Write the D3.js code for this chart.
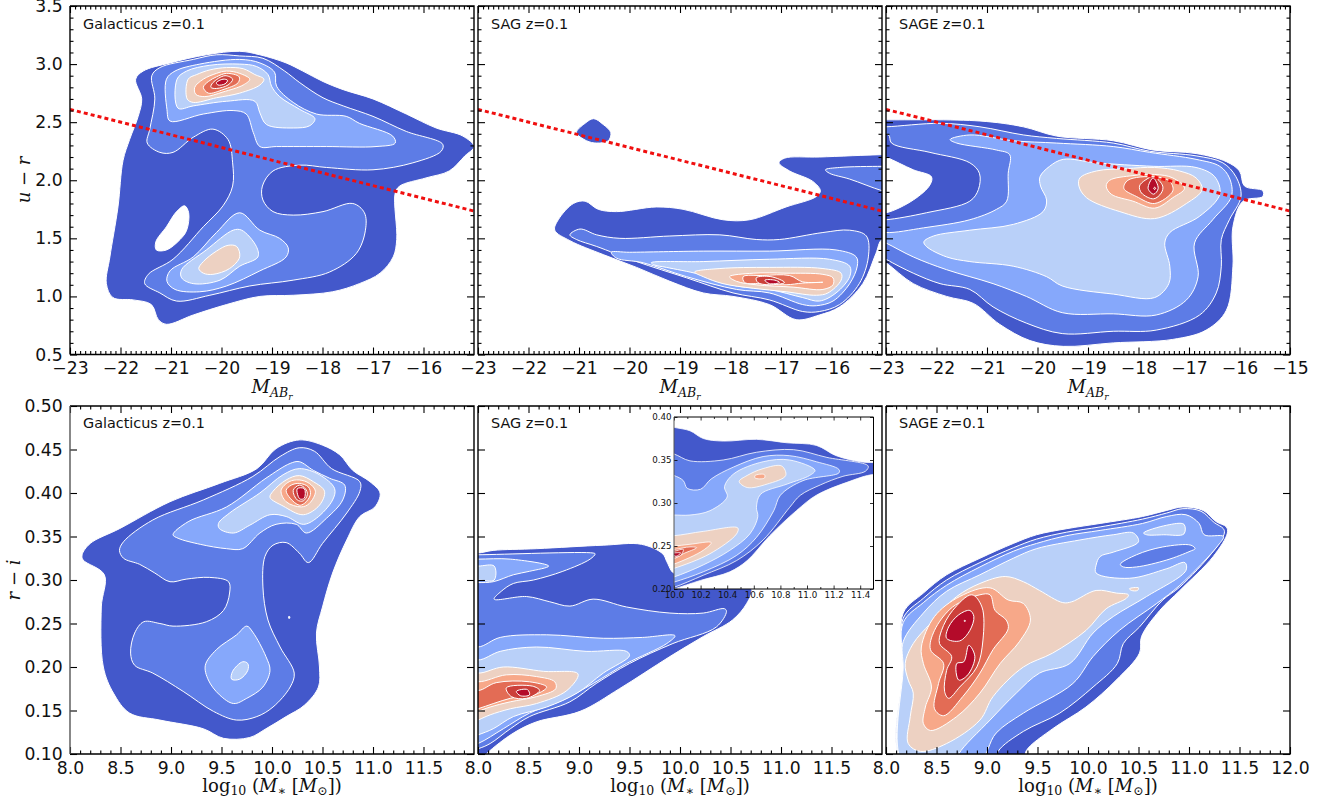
<!DOCTYPE html>
<html><head><meta charset="utf-8">
<script src="https://cdn.jsdelivr.net/npm/d3@7"></script>
<style>html,body{margin:0;padding:0;background:#fff}svg{display:block}text{font-family:"DejaVu Sans",sans-serif;fill:#111}.m{font-family:"DejaVu Serif",serif}</style>
</head><body><svg id="c" width="1322" height="805"></svg>
<script>
// Contour level colours (lowest to highest density)
const levelColors=["#4358cb","#5d7ce6","#86a8fb","#b9d0f9","#edd1c2","#f7a889","#e36c55","#cc403a","#b40b2a"];
// Red dividing line, [magnitude, colour]
const divider=[[-23,2.61],[-15,1.735]];

// Every panel: list of levels, every level: list of rings of [x, y] data values.
const galacticusUR=[
[[[-19.64,3.11],[-19.24,3.08],[-18.72,3.01],[-18.39,2.94],[-17.99,2.85],[-17.59,2.78],[-17,2.70],[-16.34,2.57],[-15.75,2.45],[-15.22,2.38],[-15,2.29],[-15.18,2.21],[-15.49,2.08],[-15.95,2.02],[-16.47,1.95],[-16.56,1.89],[-16.53,1.49],[-16.6,1.34],[-16.86,1.20],[-17.27,1.11],[-17.8,1.04],[-18.58,1.01],[-19.24,1.0],[-19.9,.93],[-20.56,.84],[-21.09,.76],[-21.25,.80],[-21.39,.93],[-21.75,.97],[-22.15,.99],[-22.28,1.11],[-22.21,1.34],[-22.05,1.77],[-21.95,2.17],[-21.82,2.35],[-21.65,2.55],[-21.58,2.70],[-21.7,2.87],[-21.55,2.94],[-21.02,3.01],[-20.3,3.08]],
 [[-20.73,1.78],[-20.65,1.72],[-20.69,1.57],[-20.82,1.49],[-21.09,1.40],[-21.29,1.40],[-21.3,1.47],[-21.09,1.60],[-20.89,1.73]]],
[[[-19.64,3.07],[-19.18,3.05],[-18.75,2.94],[-18.45,2.84],[-17.99,2.71],[-17.59,2.64],[-17,2.55],[-16.34,2.42],[-15.62,2.31],[-15.65,2.25],[-16.21,2.15],[-17,2.09],[-17.92,2.11],[-18.45,2.13],[-18.98,2.08],[-19.19,1.95],[-19.18,1.83],[-18.98,1.73],[-18.58,1.70],[-17.99,1.73],[-17.40,1.80],[-17.17,1.72],[-17.15,1.57],[-17.33,1.37],[-17.86,1.21],[-18.58,1.14],[-19.44,1.09],[-20.23,1.01],[-20.89,.96],[-21.22,1.03],[-21.52,1.11],[-21.45,1.19],[-20.96,1.32],[-20.36,1.60],[-19.97,1.78],[-19.78,1.95],[-19.78,2.15],[-19.87,2.35],[-20.17,2.44],[-20.56,2.37],[-20.96,2.24],[-21.22,2.24],[-21.47,2.32],[-21.42,2.44],[-21.32,2.70],[-21.38,2.90],[-21.22,2.97],[-20.56,3.04],[-20.10,3.08]]],
[[[-19.64,3.04],[-19.24,3.01],[-18.95,2.93],[-18.91,2.81],[-18.58,2.67],[-18.12,2.57],[-17.53,2.55],[-17.27,2.49],[-16.61,2.38],[-16.56,2.32],[-16.94,2.29],[-17.92,2.29],[-18.91,2.29],[-19.24,2.29],[-19.37,2.41],[-19.51,2.57],[-19.77,2.60],[-20.36,2.57],[-21.02,2.51],[-21.08,2.61],[-21.09,2.87],[-20.92,2.94],[-20.43,3.0]],
 [[-19.64,1.72],[-19.24,1.57],[-18.85,1.50],[-18.68,1.42],[-18.72,1.34],[-19.24,1.22],[-19.90,1.09],[-20.43,1.04],[-20.92,1.06],[-21.08,1.13],[-21.02,1.22],[-20.56,1.34],[-20.10,1.55]]],
[[[-19.64,3.0],[-19.31,2.98],[-19.08,2.91],[-19.01,2.81],[-18.85,2.72],[-18.45,2.61],[-18.15,2.53],[-18.25,2.47],[-18.58,2.45],[-19.11,2.48],[-19.24,2.58],[-19.34,2.68],[-19.90,2.68],[-20.56,2.64],[-20.86,2.62],[-20.88,2.87],[-20.69,2.94],[-20.23,2.99]],
 [[-19.77,1.57],[-19.6,1.57],[-19.31,1.43],[-19.28,1.34],[-19.64,1.26],[-20.03,1.14],[-20.56,1.11],[-20.79,1.16],[-20.79,1.23],[-20.30,1.40]]],
[[[-19.90,2.97],[-19.57,2.96],[-19.34,2.91],[-19.16,2.87],[-19.24,2.82],[-19.64,2.75],[-20.10,2.71],[-20.56,2.67],[-20.68,2.70],[-20.66,2.87],[-20.49,2.91],[-20.23,2.95]],
 [[-19.87,1.44],[-19.70,1.43],[-19.64,1.34],[-19.84,1.24],[-20.17,1.19],[-20.36,1.20],[-20.45,1.24],[-20.36,1.30],[-20.10,1.39]]],
[[[-19.90,2.94],[-19.64,2.92],[-19.44,2.87],[-19.57,2.82],[-19.97,2.76],[-20.33,2.72],[-20.51,2.74],[-20.53,2.80],[-20.36,2.87],[-20.10,2.92]]],
[[[-19.90,2.92],[-19.65,2.89],[-19.67,2.84],[-19.97,2.78],[-20.26,2.75],[-20.36,2.80],[-20.26,2.85],[-20.10,2.89]]],
[[[-19.93,2.90],[-19.78,2.87],[-19.87,2.82],[-20.10,2.79],[-20.21,2.80],[-20.17,2.84]]],
[[[-19.97,2.87],[-19.88,2.86],[-19.93,2.83],[-20.07,2.82],[-20.10,2.84]]]
];

const sagUR=[
[[[-20.71,2.53],[-20.52,2.48],[-20.37,2.41],[-20.42,2.34],[-20.65,2.32],[-20.85,2.34],[-21.05,2.41],[-20.88,2.49]],
 [[-20.88,1.82],[-20.62,1.75],[-20.26,1.73],[-19.47,1.77],[-18.94,1.75],[-18.15,1.66],[-17.62,1.66],[-16.90,1.77],[-16.30,1.86],[-16.22,1.91],[-16.37,1.99],[-16.83,2.08],[-17.04,2.15],[-16.93,2.19],[-16.24,2.20],[-15,2.22],[-14.7,2.22],[-14.7,1.49],[-15,1.49],[-15.12,1.37],[-15.38,1.11],[-15.84,.91],[-16.24,.84],[-16.70,.80],[-17.23,.93],[-17.95,1.0],[-18.54,1.03],[-19.20,1.13],[-19.86,1.25],[-20.52,1.36],[-21.18,1.48],[-21.48,1.57],[-21.41,1.66],[-21.11,1.80]]],
[[[-16.12,2.09],[-15.84,2.11],[-15,2.12],[-14.7,2.12],[-14.7,1.88],[-15,1.91],[-15.64,2.01],[-16.04,2.06]],
 [[-20.98,1.58],[-20.65,1.53],[-20.19,1.50],[-19.20,1.52],[-18.21,1.53],[-17.49,1.49],[-17.03,1.49],[-16.17,1.55],[-15.64,1.57],[-15.31,1.52],[-15.27,1.34],[-15.45,1.11],[-15.84,.93],[-16.24,.87],[-16.57,.87],[-17.23,.97],[-17.95,1.03],[-18.87,1.16],[-19.86,1.30],[-20.65,1.43],[-21.05,1.49],[-21.18,1.53]]],
[[[-20.36,1.38],[-20.0,1.38],[-18.54,1.39],[-17.23,1.39],[-15.91,1.40],[-15.51,1.34],[-15.49,1.26],[-15.64,1.11],[-15.97,.96],[-16.30,.92],[-16.57,.93],[-17.23,1.03],[-17.88,1.06],[-18.87,1.17],[-19.73,1.29],[-20.26,1.33]]],
[[[-19.57,1.29],[-18.54,1.30],[-17.23,1.32],[-16.04,1.32],[-15.64,1.26],[-15.64,1.17],[-15.91,1.03],[-16.24,.96],[-16.57,.99],[-17.23,1.06],[-17.88,1.09],[-18.61,1.19],[-19.27,1.25],[-19.50,1.27]]],
[[[-18.71,1.21],[-18.21,1.24],[-17.23,1.25],[-16.17,1.24],[-15.81,1.20],[-15.81,1.14],[-16.07,1.03],[-16.30,1.01],[-16.90,1.04],[-17.55,1.07],[-18.15,1.11],[-18.54,1.17]]],
[[[-18.02,1.17],[-17.55,1.20],[-16.90,1.20],[-16.17,1.19],[-15.97,1.16],[-15.97,1.10],[-16.17,1.06],[-16.76,1.08],[-17.49,1.10],[-17.88,1.13]]],
[[[-17.75,1.17],[-17.36,1.18],[-16.83,1.18],[-16.57,1.125],[-16.17,1.122],[-16.57,1.115],[-16.90,1.10],[-17.42,1.11],[-17.72,1.12]]],
[[[-17.49,1.16],[-17.2,1.17],[-16.93,1.12],[-17.23,1.10],[-17.46,1.12]]],
[[[-17.32,1.14],[-17.12,1.14],[-17.03,1.12],[-17.23,1.11]]]
];

const sageUR=[
[[[-23.3,2.52],[-23,2.52],[-21.14,2.51],[-20.28,2.46],[-19.62,2.38],[-18.50,2.34],[-17.71,2.26],[-16.86,2.23],[-16.26,2.16],[-16.0,2.08],[-15.90,1.95],[-15.54,1.91],[-15.54,1.86],[-15.93,1.82],[-16.13,1.60],[-16.13,1.26],[-16.26,.88],[-16.66,.71],[-17.32,.63],[-18.50,.60],[-19.49,.57],[-20.15,.62],[-20.75,.76],[-21.27,.94],[-21.80,1.0],[-22.46,1.11],[-23,1.29],[-23.3,1.37],[-23.3,1.72],[-23,1.72],[-22.46,1.83],[-22.13,1.96],[-22.10,2.03],[-22.46,2.09],[-23,2.20],[-23.3,2.25]]],
[[[-23.3,2.46],[-23,2.46],[-21.93,2.49],[-21.14,2.46],[-20.28,2.39],[-19.62,2.36],[-18.5,2.32],[-17.78,2.25],[-16.86,2.21],[-16.33,2.15],[-16.07,2.03],[-15.97,1.86],[-16.2,1.66],[-16.36,1.49],[-16.36,1.26],[-16.46,1.03],[-16.79,.84],[-17.65,.71],[-18.5,.70],[-19.51,.68],[-20.22,.77],[-20.88,.91],[-21.34,1.06],[-21.93,1.11],[-22.46,1.2],[-23,1.32],[-23.3,1.4],[-23.3,1.66],[-23,1.66],[-22.2,1.72],[-21.34,1.82],[-21.17,1.92],[-21.15,2.06],[-21.34,2.15],[-22.13,2.24],[-22.89,2.32],[-22.95,2.39],[-23.3,2.40]]],
[[[-21.73,2.35],[-21.34,2.39],[-20.48,2.34],[-19.62,2.32],[-18.5,2.29],[-17.78,2.24],[-16.86,2.18],[-16.39,2.12],[-16.2,2.02],[-16.16,1.86],[-16.53,1.66],[-16.89,1.46],[-16.82,1.17],[-17.05,.97],[-17.65,.84],[-18.5,.85],[-19.51,.86],[-20.22,1.0],[-20.88,1.11],[-21.8,1.23],[-22.46,1.34],[-23,1.46],[-23.3,1.52],[-23.3,1.58],[-23,1.55],[-22.26,1.59],[-21.34,1.66],[-20.81,1.75],[-20.61,1.82],[-20.58,2.06],[-20.55,2.22],[-20.81,2.26],[-21.60,2.32]]],
[[[-19.49,2.18],[-18.83,2.15],[-17.71,2.12],[-16.86,2.11],[-16.49,2.03],[-16.39,1.88],[-16.79,1.69],[-17.38,1.55],[-17.48,1.46],[-17.38,1.26],[-17.40,1.11],[-17.68,.99],[-18.5,1.02],[-19.51,1.09],[-19.82,1.17],[-20.48,1.26],[-21.34,1.30],[-21.8,1.34],[-22.2,1.43],[-22.25,1.47],[-22.06,1.52],[-21.34,1.57],[-20.48,1.62],[-19.89,1.73],[-19.82,1.83],[-19.94,1.95],[-19.95,2.03],[-19.76,2.12]]],
[[[-17.68,2.11],[-17.19,2.08],[-16.86,2.02],[-16.74,1.92],[-17.05,1.80],[-17.68,1.67],[-18.37,1.73],[-19.03,1.85],[-19.18,1.95],[-19.16,2.02],[-18.83,2.08],[-18.24,2.10]]],
[[[-17.68,2.05],[-17.32,2.02],[-17.09,1.93],[-17.32,1.85],[-17.68,1.76],[-18.11,1.82],[-18.54,1.88],[-18.64,1.95],[-18.57,2.0],[-18.11,2.04]]],
[[[-17.68,2.03],[-17.38,1.99],[-17.32,1.91],[-17.68,1.80],[-18.04,1.86],[-18.29,1.93],[-18.21,2.0]]],
[[[-17.70,2.03],[-17.52,1.95],[-17.55,1.89],[-17.70,1.84],[-17.94,1.89],[-17.98,1.95],[-17.87,2.0]]],
[[[-17.71,2.02],[-17.61,1.93],[-17.70,1.88],[-17.81,1.93]],[[-17.68,1.94],[-17.66,1.93],[-17.68,1.92],[-17.70,1.93]]]
];

const galacticusRI=[
[[[10.27,.461],[10.50,.455],[10.67,.444],[10.80,.426],[10.97,.413],[11.07,.40],[11.02,.384],[10.87,.373],[10.74,.346],[10.60,.308],[10.50,.269],[10.44,.239],[10.47,.20],[10.46,.177],[10.32,.156],[10.14,.143],[9.94,.129],[9.78,.119],[9.52,.118],[9.32,.129],[8.89,.139],[8.59,.147],[8.43,.17],[8.33,.20],[8.31,.269],[8.34,.306],[8.13,.323],[8.12,.329],[8.20,.342],[8.49,.359],[8.99,.39],[9.48,.411],[9.85,.428],[10.04,.451]],
 [[10.165,.258],[10.175,.258],[10.175,.256],[10.165,.256]]],
[[[10.27,.452],[10.42,.448],[10.59,.428],[10.87,.413],[10.87,.402],[10.74,.377],[10.50,.342],[10.36,.32],[10.27,.331],[10.14,.343],[10.01,.34],[9.93,.327],[9.91,.292],[9.96,.254],[10.08,.223],[10.22,.193],[10.18,.177],[10.01,.154],[9.85,.143],[9.65,.139],[9.42,.149],[9.12,.172],[8.82,.193],[8.64,.202],[8.60,.216],[8.64,.239],[8.73,.252],[8.89,.25],[9.02,.247],[9.35,.252],[9.52,.265],[9.58,.285],[9.57,.298],[9.38,.303],[9.15,.301],[8.99,.298],[8.84,.308],[8.69,.318],[8.53,.325],[8.49,.334],[8.53,.344],[8.82,.369],[9.32,.392],[9.81,.419],[10.08,.442]]],
[[[10.27,.436],[10.41,.426],[10.57,.417],[10.72,.409],[10.70,.392],[10.54,.371],[10.34,.354],[10.24,.364],[10.04,.364],[9.88,.354],[9.71,.336],[9.55,.336],[9.29,.341],[9.07,.348],[9.02,.352],[9.17,.367],[9.55,.384],[9.94,.417],[10.18,.434]],
 [[9.75,.247],[9.81,.24],[9.94,.212],[9.98,.196],[9.91,.177],[9.75,.164],[9.62,.158],[9.48,.168],[9.37,.185],[9.34,.202],[9.45,.22],[9.65,.237]]],
[[[10.27,.428],[10.47,.421],[10.62,.405],[10.60,.392],[10.44,.371],[10.31,.364],[10.14,.373],[9.98,.375],[9.78,.363],[9.62,.354],[9.48,.359],[9.47,.365],[9.58,.377],[9.88,.40],[10.11,.421]],
 [[9.71,.206],[9.76,.204],[9.76,.196],[9.68,.186],[9.60,.186],[9.61,.195]]],
[[[10.27,.42],[10.41,.413],[10.52,.402],[10.47,.386],[10.31,.375],[10.11,.385],[9.98,.395],[10.01,.402],[10.14,.415]]],
[[[10.27,.415],[10.37,.411],[10.43,.402],[10.37,.388],[10.29,.384],[10.14,.39],[10.09,.403],[10.17,.413]]],
[[[10.27,.411],[10.36,.407],[10.38,.398],[10.32,.388],[10.27,.386],[10.18,.394],[10.14,.403],[10.19,.409]]],
[[[10.27,.409],[10.33,.405],[10.35,.398],[10.31,.391],[10.25,.392],[10.21,.403]]],
[[[10.25,.405],[10.32,.405],[10.32,.394],[10.28,.393],[10.26,.396]]]
];

const sagRI=[
[[[7.8,.331],[8,.331],[8.15,.334],[8.58,.336],[9.24,.34],[9.62,.341],[9.83,.33],[9.87,.321],[9.94,.308],[10.06,.315],[10.56,.308],[10.71,.29],[10.66,.273],[10.52,.254],[10.23,.235],[9.90,.212],[9.40,.175],[9.01,.149],[8.58,.137],[8.35,.124],[8.09,.101],[8,.09],[7.8,.09]]],
[[[7.8,.329],[8,.329],[9.14,.331],[9.16,.33],[9.11,.324],[8.84,.31],[8.55,.30],[8.35,.296],[8.23,.287],[8.16,.278],[8.48,.281],[8.71,.275],[8.91,.27],[9.14,.278],[9.47,.269],[9.90,.262],[10.23,.262],[10.44,.267],[10.46,.264],[10.36,.246],[9.93,.227],[9.50,.204],[9.17,.181],[8.91,.16],[8.51,.143],[8.32,.129],[8.12,.112],[8,.106],[7.8,.10]]],
[[[7.8,.324],[8,.324],[8.32,.324],[8.70,.316],[8.51,.31],[8.35,.306],[8.15,.298],[8,.297],[7.8,.297]],
 [[7.8,.23],[8,.223],[8.22,.234],[8.68,.237],[9.24,.233],[9.63,.234],[9.95,.236],[9.87,.227],[9.47,.204],[9.14,.181],[8.84,.162],[8.51,.147],[8.25,.129],[8,.112],[7.8,.105]]],
[[[7.8,.316],[8,.316],[8.16,.316],[8.16,.30],[8,.30],[7.8,.30]],
 [[7.8,.215],[8,.208],[8.22,.218],[8.58,.223],[9.07,.218],[9.47,.218],[9.50,.213],[9.24,.193],[8.98,.17],[8.68,.154],[8.35,.143],[8.15,.129],[8,.122],[7.8,.115]]],
[[[7.8,.20],[8,.193],[8.25,.20],[8.65,.195],[8.99,.192],[8.88,.173],[8.58,.158],[8.32,.152],[8.12,.145],[8,.139],[7.8,.13]]],
[[[7.8,.19],[8,.183],[8.28,.191],[8.58,.189],[8.76,.183],[8.77,.175],[8.58,.166],[8.32,.16],[8.12,.154],[8,.149],[7.8,.14]]],
[[[7.8,.18],[8,.173],[8.18,.182],[8.51,.183],[8.68,.177],[8.6,.17],[8.32,.164],[8,.152],[7.8,.145]]],
[[[8.28,.176],[8.54,.178],[8.61,.173],[8.48,.164],[8.33,.166]]],
[[[8.38,.172],[8.49,.174],[8.51,.168],[8.42,.167]]]
];

const sagInset=[
[[[9.9,.392],[10,.388],[10.12,.384],[10.22,.375],[10.37,.372],[10.62,.374],[10.85,.37],[11.07,.367],[11.22,.355],[11.40,.348],[11.5,.347],[11.6,.347],[11.6,.33],[11.5,.333],[11.30,.324],[11.07,.309],[10.92,.291],[10.72,.262],[10.55,.233],[10.42,.22],[10.20,.21],[10,.20],[9.9,.195]]],
[[[9.9,.36],[10,.357],[10.12,.349],[10.37,.35],[10.62,.359],[10.90,.362],[11.15,.353],[11.46,.343],[11.44,.337],[11.27,.331],[11.10,.321],[10.95,.309],[10.87,.295],[10.67,.257],[10.47,.233],[10.22,.216],[10,.202],[9.9,.198]]],
[[[9.9,.336],[10,.332],[10.07,.326],[10.1,.317],[10.2,.316],[10.28,.328],[10.45,.342],[10.67,.354],[10.87,.355],[11.07,.348],[11.24,.339],[11.24,.335],[10.97,.326],[10.80,.309],[10.75,.291],[10.62,.26],[10.47,.239],[10.22,.22],[10,.208],[9.9,.204]]],
[[[9.9,.286],[10,.286],[10.12,.286],[10.27,.291],[10.4,.307],[10.38,.319],[10.45,.334],[10.67,.348],[10.87,.35],[11.06,.338],[11.02,.332],[10.85,.322],[10.65,.31],[10.62,.295],[10.63,.284],[10.57,.264],[10.42,.245],[10.22,.228],[10,.214],[9.9,.21]]],
[[[10.55,.332],[10.67,.34],[10.81,.343],[10.84,.332],[10.70,.322],[10.55,.318],[10.49,.325]],
 [[9.9,.262],[10,.262],[10.22,.267],[10.48,.271],[10.47,.264],[10.27,.241],[10,.224],[9.9,.22]]],
[[[10.61,.332],[10.68,.333],[10.68,.329],[10.61,.329]],
 [[9.9,.25],[10,.25],[10.12,.252],[10.28,.254],[10.22,.245],[10,.229],[9.9,.225]]],
[[[9.9,.246],[10,.246],[10.12,.249],[10.17,.248],[10.07,.241],[10,.235],[9.9,.232]]],
[[[9.9,.244],[10,.244],[10.07,.246],[10.05,.239],[10,.237],[9.9,.235]]],
[[[9.9,.242],[10,.242],[10.05,.242],[10.015,.238],[10,.239],[9.9,.238]]]
];

const sageRI=[
[[[8.17,.20],[8.17,.262],[8.37,.285],[8.6,.306],[8.93,.325],[9.26,.342],[9.49,.352],[9.79,.359],[10.12,.365],[10.54,.373],[10.78,.38],[10.94,.384],[11.14,.38],[11.27,.367],[11.37,.361],[11.38,.354],[11.24,.327],[10.91,.288],[10.71,.265],[10.53,.235],[10.51,.216],[10.28,.185],[9.98,.154],[9.65,.129],[9.39,.104],[9.36,.09],[8.17,.09]]],
[[[8.17,.20],[8.17,.256],[8.37,.279],[8.6,.30],[8.93,.32],[9.26,.337],[9.49,.347],[9.79,.355],[10.12,.361],[10.54,.37],[10.78,.377],[10.94,.382],[11.12,.379],[11.25,.366],[11.34,.359],[11.35,.354],[11.24,.333],[10.91,.292],[10.74,.277],[10.51,.246],[10.35,.227],[10.29,.204],[10.05,.177],[9.72,.147],[9.36,.126],[9.11,.103],[9.09,.09],[8.17,.09]]],
[[[8.17,.20],[8.17,.251],[8.37,.274],[8.6,.294],[8.93,.315],[9.26,.333],[9.49,.342],[9.79,.351],[10.12,.357],[10.54,.365],[10.78,.373],[10.97,.375],[11.10,.365],[11.15,.352],[11.34,.35],[11.29,.34],[10.91,.294],[10.68,.273],[10.31,.242],[10.05,.212],[9.85,.181],[9.36,.147],[9.09,.124],[8.91,.09],[8.17,.09]],
 [[10.32,.318],[10.48,.329],[10.74,.338],[11.02,.34],[11.06,.336],[11.01,.333],[10.78,.323],[10.48,.315],[10.35,.315]]],
[[[8.17,.20],[8.17,.229],[8.37,.262],[8.6,.287],[8.93,.306],[9.26,.325],[9.49,.336],[9.92,.346],[10.25,.352],[10.45,.354],[10.5,.344],[10.25,.332],[10.12,.327],[10.08,.317],[10.08,.308],[10.41,.302],[10.78,.313],[10.96,.32],[10.97,.311],[10.58,.281],[10.25,.258],[10.05,.239],[9.82,.204],[9.52,.193],[9.29,.17],[9.03,.139],[8.72,.10],[8.7,.09],[8.17,.09]],
 [[10.55,.354],[10.78,.363],[10.95,.364],[10.95,.353],[10.75,.352],[10.58,.352]]],
[[[9.18,.304],[9.36,.298],[9.52,.288],[9.75,.274],[9.84,.275],[10.08,.288],[10.28,.285],[10.4,.283],[10.38,.279],[10.18,.267],[9.98,.242],[9.65,.216],[9.36,.20],[9.06,.166],[8.93,.139],[8.6,.112],[8.34,.103],[8.22,.112],[8.24,.143],[8.27,.17],[8.22,.185],[8.19,.204],[8.27,.227],[8.44,.25],[8.7,.281],[8.93,.296]],
 [[10.41,.29],[10.5,.291],[10.49,.288],[10.43,.288]]],
[[[9.03,.291],[9.21,.277],[9.36,.273],[9.43,.254],[9.32,.229],[9.13,.204],[8.93,.17],[8.7,.143],[8.44,.127],[8.37,.135],[8.39,.154],[8.45,.177],[8.37,.204],[8.35,.223],[8.48,.258],[8.73,.281]]],
[[[8.93,.283],[9.03,.283],[9.08,.265],[9.19,.254],[9.21,.244],[9.06,.22],[8.93,.193],[8.76,.166],[8.57,.144],[8.48,.152],[8.52,.181],[8.57,.204],[8.44,.22],[8.48,.242],[8.66,.269]]],
[[[8.85,.283],[8.95,.269],[8.96,.231],[8.9,.20],[8.73,.177],[8.62,.164],[8.58,.172],[8.6,.196],[8.65,.212],[8.53,.227],[8.55,.242],[8.66,.265]]],
[[[8.83,.265],[8.87,.258],[8.83,.242],[8.73,.23],[8.6,.233],[8.62,.246],[8.72,.26]],
 [[8.82,.225],[8.88,.212],[8.81,.191],[8.72,.185],[8.7,.204],[8.77,.206]],
 [[8.775,.2535],[8.785,.2535],[8.785,.2525],[8.775,.2525]]]
];

// Axis ticks
const urMajorX=[-23,-22,-21,-20,-19,-18,-17,-16,-15];
const urMajorY=[0.5,1,1.5,2,2.5,3,3.5];
const riMajorX=[8,8.5,9,9.5,10,10.5,11,11.5,12];
const riMajorY=[0.10,0.15,0.20,0.25,0.30,0.35,0.40,0.45,0.50];
const insetMajorX=[10,10.2,10.4,10.6,10.8,11,11.2,11.4];
const insetMajorY=[0.20,0.25,0.30,0.35,0.40];
const panelTitles=["Galacticus z=0.1","SAG z=0.1","SAGE z=0.1"];

const svg=d3.select("#c");
const lefts=[70,478,886], W=404;
const rows=[{t:6,b:354.5},{t:406,b:754}];
let uid=0;
function frame(opts){
  const {l,r,t,b,xd,yd,levels,xMaj,xMin,yMaj,yMin,xFmt,yFmt,showX,showY,major,minor,fs,pad,leftCol}=opts;
  const x=d3.scaleLinear().domain(xd).range([l,r]);
  const y=d3.scaleLinear().domain(yd).range([b,t]);
  const g=svg.append("g");
  if(opts.bg) g.append("rect").attr("x",l).attr("y",t).attr("width",r-l).attr("height",b-t).attr("fill","#fff");
  const id="clip"+(uid++);
  g.append("clipPath").attr("id",id).append("rect").attr("x",l).attr("y",t).attr("width",r-l).attr("height",b-t);
  const plot=g.append("g").attr("clip-path",`url(#${id})`);
  const line=d3.line().x(d=>x(d[0])).y(d=>y(d[1])).curve(d3.curveCatmullRomClosed.alpha(0.5));
  levels.forEach((rings,i)=>{
    plot.append("path").attr("d",rings.map(rg=>line(rg)).join(""))
      .attr("fill",levelColors[i]).attr("fill-rule","evenodd")
      .attr("stroke","#fff").attr("stroke-width",opts.lw||1).attr("stroke-linejoin","round");
  });
  if(opts.divider){
    plot.append("path").attr("d",d3.line().x(d=>x(d[0])).y(d=>y(d[1]))(divider))
      .attr("fill","none").attr("stroke","#f00f0f").attr("stroke-width",3).attr("stroke-dasharray","4 3.1");
  }
  const axes=g.append("g");
  function add(gen,tx,ty,vals,size,fmt){
    const a=axes.append("g").attr("transform",`translate(${tx},${ty})`)
      .call(gen.tickValues(vals).tickSizeInner(-size).tickSizeOuter(0).tickPadding(pad).tickFormat(fmt||(()=>"")));
    a.select(".domain").remove();
    a.selectAll("line").attr("stroke","#000").attr("stroke-width",opts.tw||1.1);
    a.selectAll("text").attr("font-size",fs).attr("font-family","DejaVu Sans").attr("fill","#111");
    return a;
  }
  add(d3.axisBottom(x),0,b,xMaj,major,showX?xFmt:null);
  add(d3.axisTop(x),0,t,xMaj,major);
  add(d3.axisLeft(y),l,0,yMaj,major,showY?yFmt:null);
  add(d3.axisRight(y),r,0,yMaj,major);
  if(xMin.length){add(d3.axisBottom(x),0,b,xMin,minor);add(d3.axisTop(x),0,t,xMin,minor);}
  if(yMin.length){add(d3.axisLeft(y),l,0,yMin,minor);add(d3.axisRight(y),r,0,yMin,minor);}
  g.append("path").attr("d",`M${l},${t}H${r}V${b}H${l}`).attr("fill","none").attr("stroke","#000").attr("stroke-width",opts.sw||1.4);
  g.append("line").attr("x1",l).attr("x2",l).attr("y1",t).attr("y2",b).attr("stroke",leftCol||"#000").attr("stroke-width",opts.sw||1.4);
  return {x,y,g};
}
const fmtInt=d3.format("d"), fmt1=d3.format(".1f"), fmt2=d3.format(".2f");
const minorUrX=d3.range(0,81).map(i=>-23+i/10).filter(v=>Math.abs(v-Math.round(v))>1e-6);
const minorUrY=d3.range(0,31).map(i=>0.5+i/10).filter(v=>Math.abs(v*2-Math.round(v*2))>1e-6);
const minorRiX=d3.range(0,41).map(i=>8+i/10).filter(v=>Math.abs(v*2-Math.round(v*2))>1e-6);

[galacticusUR,sagUR,sageUR].forEach((lv,i)=>{
  frame({l:lefts[i],r:lefts[i]+W,t:rows[0].t,b:rows[0].b,xd:[-23,-15],yd:[0.5,3.5],levels:lv,
    xMaj:i<2?urMajorX.slice(0,-1):urMajorX,xMin:minorUrX,yMaj:urMajorY,yMin:minorUrY,
    xFmt:fmtInt,yFmt:fmt1,showX:true,showY:i===0,major:7,minor:3.5,fs:17.2,pad:7.3,divider:true});
});
[galacticusRI,sagRI,sageRI].forEach((lv,i)=>{
  frame({l:lefts[i],r:lefts[i]+W,t:rows[1].t,b:rows[1].b,xd:[8,12],yd:[0.1,0.5],levels:lv,
    xMaj:i<2?riMajorX.slice(0,-1):riMajorX,xMin:minorRiX,yMaj:riMajorY,yMin:[],
    xFmt:fmt1,yFmt:fmt2,showX:true,showY:i===0,major:7,minor:3.5,fs:17.2,pad:7.3,leftCol:i===0?"#555":"#000"});
});
frame({l:674,r:873.5,t:417,b:589,xd:[10,11.5],yd:[0.2,0.4],levels:sagInset,bg:true,
  xMaj:insetMajorX,xMin:d3.range(0,15).map(i=>10.1+i*0.2).filter(v=>v<11.5),yMaj:insetMajorY,yMin:[],
  xFmt:fmt1,yFmt:fmt2,showX:true,showY:true,major:3.5,minor:2,fs:8.7,pad:2.5,lw:.8,tw:.8,sw:1,leftCol:"#555"});

// Panel titles
lefts.forEach((l,i)=>{
  [29,428].forEach(by=>{
    svg.append("text").attr("x",l+13).attr("y",by).attr("font-size",14.4).text(panelTitles[i]);
  });
});

// Axis titles
function magLabel(cx,by){
  const t=svg.append("text").attr("class","m").attr("x",cx).attr("y",by).attr("text-anchor","middle").attr("font-size",18).attr("font-style","italic");
  t.append("tspan").text("M");
  t.append("tspan").attr("font-size",12.5).attr("dy",4).text("AB");
  t.append("tspan").attr("font-size",9).attr("dy",2.5).text("r");
}
function massLabel(cx,by){
  const t=svg.append("text").attr("class","m").attr("x",cx).attr("y",by).attr("text-anchor","middle").attr("font-size",18);
  t.append("tspan").text("log");
  t.append("tspan").attr("font-size",12.5).attr("dy",3).text("10");
  t.append("tspan").attr("dy",-3).text(" (");
  t.append("tspan").attr("font-style","italic").text("M");
  t.append("tspan").attr("font-size",12.5).attr("dy",3).attr("font-style","italic").text("∗");
  t.append("tspan").attr("dy",-3).text(" [");
  t.append("tspan").attr("font-style","italic").text("M");
  t.append("tspan").attr("font-size",12.5).attr("dy",3).text("⊙");
  t.append("tspan").attr("dy",-3).text("])");
}
lefts.forEach(l=>{magLabel(l+202,393);massLabel(l+202,792);});
function yLabel(s,xp,yp){
  svg.append("text").attr("class","m").attr("transform",`translate(${xp},${yp}) rotate(-90)`)
    .attr("text-anchor","middle").attr("font-size",18).attr("font-style","italic").text(s);
}
yLabel("u − r",30,180);
yLabel("r − i",20,580);
</script></body></html>
